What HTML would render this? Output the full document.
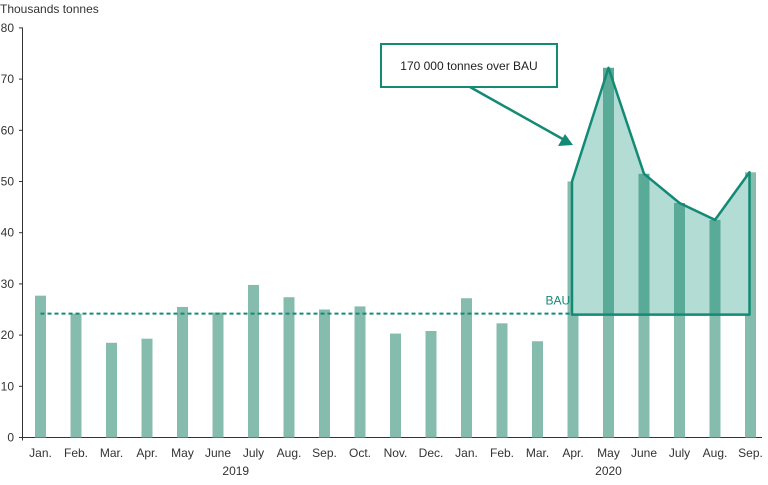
<!DOCTYPE html>
<html><head><meta charset="utf-8"><style>
body{margin:0;background:#fff;}
svg text{font-family:"Liberation Sans",sans-serif;}
</style></head><body>
<svg id="c" width="768" height="480">
<text x="0" y="13" font-size="12" fill="#333">Thousands tonnes</text>
<g id="grid"></g><g id="bars"></g><g id="overlay"></g><g id="labels"></g>
</svg>
<script>
const months=["Jan.","Feb.","Mar.","Apr.","May","June","July","Aug.","Sep.","Oct.","Nov.","Dec.","Jan.","Feb.","Mar.","Apr.","May","June","July","Aug.","Sep."];
const values=[27.7,24.2,18.5,19.3,25.5,24.4,29.8,27.4,25.0,25.6,20.3,20.8,27.2,22.3,18.8,50,72.2,51.5,45.8,42.5,51.8];
const yTicks=[0,10,20,30,40,50,60,70,80];
const bau=24.2;
const bauPeriod=24;
const overStart=15;
const years=[{label:"2019",from:0,to:11},{label:"2020",from:12,to:20}];
const NS="http://www.w3.org/2000/svg";
const y=v=>437.5-v*5.12;
const x=i=>40.5+i*35.5;
function mk(tag,attrs,parent,name){const e=document.createElementNS(NS,tag);for(const k in attrs)e.setAttribute(k,attrs[k]);


document.getElementById(parent).appendChild(e);return e;}
yTicks.forEach(t=>{const l=mk('text',{x:14,y:y(t)+4,'font-size':12,fill:'#333','text-anchor':'end'},'labels','y-tick-label');l.textContent=t;
mk('line',{x1:19,x2:23,y1:y(t),y2:y(t),stroke:'#333'},'grid','y-tick');});
mk('line',{x1:22.5,x2:22.5,y1:y(80),y2:y(0)+3,stroke:'#333'},'grid','y-axis');
mk('line',{x1:22,x2:762,y1:y(0),y2:y(0),stroke:'#333'},'grid','x-axis');
values.forEach((v,i)=>{mk('rect',{x:x(i)-5.5,y:y(v),width:11,height:y(0)-y(v),fill:'#86bcad'},'bars','bar-'+i);
const t=mk('text',{x:x(i),y:457,'font-size':12,fill:'#333','text-anchor':'middle'},'labels','x-tick-label');t.textContent=months[i];});
years.forEach(yr=>{const t=mk('text',{x:(x(yr.from)+x(yr.to))/2,y:475,'font-size':12,fill:'#333','text-anchor':'middle'},'labels','year-label');t.textContent=yr.label;});
mk('line',{x1:x(0),x2:x(overStart)-2,y1:y(bau),y2:y(bau),stroke:'#138a75','stroke-width':2,'stroke-dasharray':'4,3'},'overlay','bau-line');
const bl=mk('text',{x:x(14)+8,y:y(bau)-9,'font-size':12,fill:'#138a75'},'labels','bau-label');bl.textContent="BAU";
let pts=[[x(overStart)-1,y(bauPeriod)]];
for(let i=overStart;i<values.length;i++)pts.push([i==overStart?x(i)-1:(i==values.length-1?x(i)-1:x(i)),y(values[i])]);
pts.push([x(values.length-1)-1,y(bauPeriod)]);
mk('polygon',{points:pts.map(p=>p.join(',')).join(' '),fill:'#b3dcd5'},'overlay','excess-area');
for(let i=overStart+1;i<values.length-1;i++)mk('rect',{x:x(i)-5.5,y:y(values[i]),width:11,height:y(bauPeriod)-y(values[i]),fill:'#5aaa98'},'overlay','excess-bar');
mk('polygon',{points:pts.map(p=>p.join(',')).join(' '),fill:'none',stroke:'#138a75','stroke-width':2.5,'stroke-linejoin':'round'},'overlay','excess-outline');
mk('rect',{x:381,y:44,width:176,height:43,fill:'#fff',stroke:'#138a75','stroke-width':2},'overlay','annotation-box');
const at=mk('text',{x:469,y:70,'font-size':12,fill:'#222','text-anchor':'middle'},'labels','annotation-text');at.textContent="170 000 tonnes over BAU";
mk('line',{x1:470,x2:568,y1:87,y2:142,stroke:'#138a75','stroke-width':2.5},'overlay','annotation-arrow');
mk('polygon',{points:'573,145 558,146 565,134',fill:'#138a75'},'overlay','arrow-head');
</script>
</body></html>
